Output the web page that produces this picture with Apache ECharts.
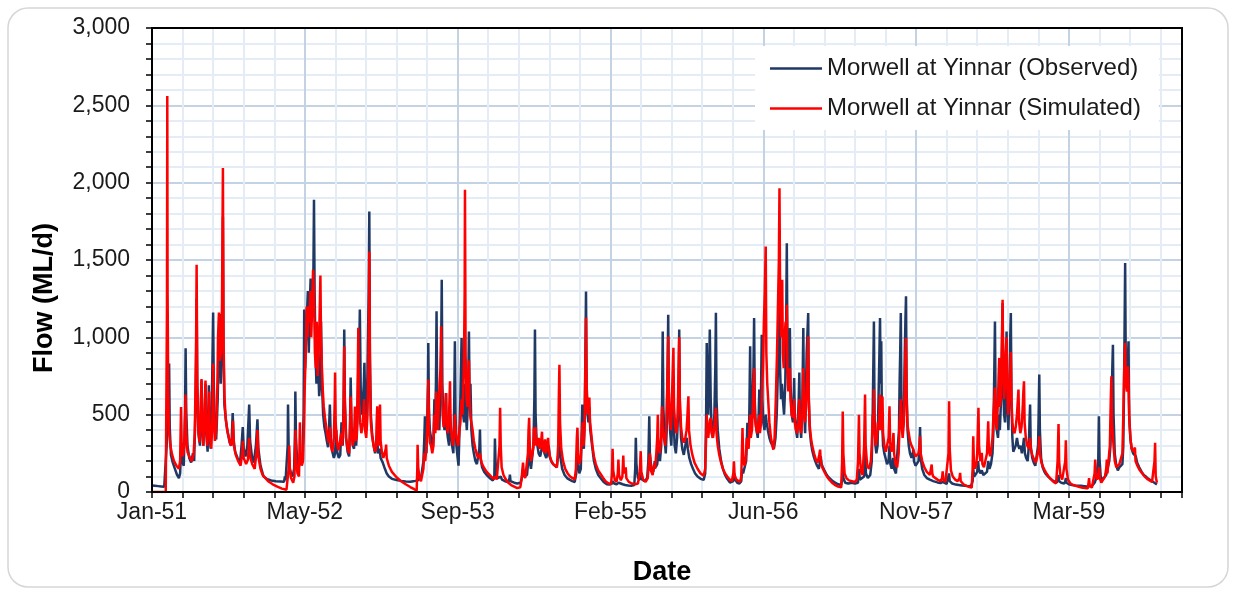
<!DOCTYPE html>
<html>
<head>
<meta charset="utf-8">
<title>Morwell at Yinnar – observed vs simulated flow</title>
<script src="https://cdn.jsdelivr.net/npm/echarts@6/dist/echarts.min.js"></script>
<style>
  html, body { margin: 0; padding: 0; background: #ffffff; }
  #chart { width: 1233px; height: 592px; }
</style>
</head>
<body>
<div id="chart"></div>
<script>
// Day numbers count from 1 January 1951; flows are in ML/d.
const seriesNames = ['Morwell at Yinnar (Observed)', 'Morwell at Yinnar (Simulated)'];
const xTickLabels = ['Jan-51', 'May-52', 'Sep-53', 'Feb-55', 'Jun-56', 'Nov-57', 'Mar-59'];
const xTickStepDays = 500;

// Observed flow, [day, ML/d]
const obs1951 = [[0,42],[10,40],[20,38],[30,36],[40,34],[46,34],[48,300],[52,620],[56,830],[58,420],[62,240],[68,190],[75,150],[82,110],[88,90],[92,120],[95,260],[98,200],[104,170],[108,500],[110,930],[112,520],[116,300],[122,220],[128,190],[134,250],[138,200],[143,600],[146,1250],[148,700],[152,380],[157,300],[160,520],[162,720],[164,450],[168,300],[172,480],[175,700],[177,400],[182,260],[186,690],[188,380],[192,280],[196,600],[200,1160],[202,700],[206,420],[210,340],[215,600],[218,900],[222,1150],[225,700],[230,1100],[232,1780],[234,900],[237,560],[242,460],[248,380],[254,320],[260,300],[264,510],[267,340],[272,260],[280,220],[288,190],[293,300],[297,420],[300,280],[306,230],[312,300],[318,565],[321,330],[327,230],[333,190],[340,300],[345,470],[348,280],[355,170],[362,120]];
const obs1952 = [[365,100],[375,85],[390,75],[405,70],[420,68],[432,66],[435,100],[437,75],[442,70],[444,300],[445,565],[447,300],[450,160],[455,120],[460,100],[465,150],[468,400],[469,650],[471,350],[475,200],[480,150],[484,250],[487,180],[492,200],[496,500],[498,1180],[501,800],[504,1000],[507,1150],[510,1300],[513,900],[516,1200],[519,1380],[522,1100],[525,1250],[528,1400],[530,1890],[532,1300],[535,900],[538,700],[541,1000],[544,800],[547,620],[550,700],[553,1100],[556,700],[560,500],[564,420],[568,380],[572,330],[576,290],[579,400],[582,565],[585,350],[590,260],[595,220],[599,250],[603,400],[606,260],[611,220],[616,240],[620,450],[624,300],[627,600],[629,1050],[631,600],[635,350],[640,260],[645,230],[648,450],[650,740],[653,420],[657,300],[661,280],[665,420],[668,300],[672,450],[675,800],[678,900],[680,1180],[683,650],[686,500],[690,600],[693,700],[695,836],[698,520],[702,400],[706,900],[709,1300],[711,1813],[713,900],[716,500],[720,380],[725,300],[730,250]];
const obs1953 = [[733,300],[737,330],[740,250],[745,280],[748,220],[755,190],[762,150],[768,120],[775,100],[785,85],[800,78],[815,72],[830,68],[845,66],[855,70],[862,72],[868,75],[872,78],[876,110],[880,90],[885,100],[888,200],[891,350],[893,490],[895,300],[898,250],[901,500],[903,700],[904,963],[906,550],[909,400],[913,350],[917,280],[921,350],[924,600],[926,400],[929,700],[931,1168],[933,600],[936,450],[940,400],[943,600],[946,900],[948,1372],[950,700],[953,500],[957,400],[960,500],[962,640],[964,420],[968,350],[972,300],[975,500],[978,400],[982,300],[986,250],[989,600],[991,974],[993,500],[996,300],[1000,220],[1003,170],[1006,400],[1009,600],[1011,800],[1013,995],[1015,600],[1018,500],[1021,450],[1024,700],[1026,550],[1030,400],[1034,600],[1037,1038],[1039,600],[1042,700],[1045,400],[1049,300],[1053,250],[1058,200],[1063,180],[1068,170],[1071,280],[1073,404],[1075,220],[1080,160],[1087,130],[1095,110]];
const obs1954 = [[1100,100],[1108,85],[1115,75],[1120,90],[1122,345],[1124,200],[1127,110],[1132,90],[1138,80],[1141,100],[1145,80],[1155,70],[1165,65],[1170,90],[1171,113],[1173,70],[1185,60],[1195,55],[1201,50],[1206,60],[1210,90],[1214,150],[1217,100],[1222,90],[1227,110],[1231,200],[1234,300],[1236,200],[1240,150],[1244,160],[1248,300],[1251,600],[1253,1050],[1255,500],[1258,350],[1261,300],[1265,250],[1270,230],[1275,280],[1280,330],[1284,250],[1290,220],[1295,260],[1298,300],[1301,230],[1306,200],[1312,180],[1318,170],[1324,160],[1330,250],[1333,450],[1336,230],[1342,150],[1350,110],[1358,90],[1366,80],[1375,70],[1383,65],[1388,120],[1392,300],[1394,180],[1398,120],[1403,150],[1406,400],[1408,565],[1410,320],[1413,280],[1416,500],[1418,900],[1420,1297],[1422,700],[1425,500],[1428,450],[1431,550],[1434,400],[1437,350],[1441,280],[1446,200],[1452,150],[1460,110]];
const obs1955 = [[1462,110],[1470,85],[1478,65],[1488,50],[1495,48],[1505,55],[1508,70],[1512,55],[1520,50],[1527,60],[1530,50],[1540,50],[1543,60],[1548,45],[1558,42],[1568,40],[1578,45],[1581,150],[1583,350],[1585,180],[1590,90],[1597,80],[1600,110],[1604,80],[1612,70],[1620,90],[1624,200],[1627,490],[1629,250],[1634,150],[1640,130],[1645,200],[1648,160],[1653,180],[1658,300],[1662,200],[1666,300],[1669,600],[1671,1038],[1673,550],[1677,350],[1681,250],[1684,400],[1687,800],[1689,1146],[1691,600],[1695,400],[1699,300],[1702,450],[1704,600],[1706,500],[1710,300],[1714,250],[1718,350],[1721,500],[1723,700],[1725,1050],[1727,550],[1731,350],[1735,280],[1740,240],[1745,300],[1750,350],[1753,280],[1758,220],[1764,180],[1770,150],[1777,120],[1785,100],[1795,85],[1805,78],[1810,120],[1813,500],[1815,963],[1817,550],[1820,500],[1823,800],[1825,1050]];
const obs1956 = [[1828,600],[1831,400],[1835,350],[1840,500],[1843,800],[1845,1159],[1847,600],[1851,400],[1856,280],[1862,200],[1868,150],[1875,110],[1882,85],[1891,61],[1897,58],[1902,70],[1905,120],[1908,80],[1915,60],[1922,55],[1928,70],[1931,150],[1934,120],[1940,130],[1944,200],[1946,300],[1948,447],[1950,300],[1953,350],[1955,600],[1957,942],[1959,500],[1962,450],[1965,600],[1968,800],[1970,1125],[1972,600],[1975,450],[1978,400],[1982,350],[1985,500],[1987,662],[1989,450],[1992,550],[1995,1017],[1997,600],[2000,450],[2004,400],[2008,500],[2011,450],[2015,400],[2020,350],[2025,320],[2030,300],[2035,280],[2040,350],[2044,500],[2048,800],[2051,1000],[2053,1329],[2055,800],[2058,600],[2061,700],[2064,600],[2068,500],[2072,700],[2075,1100],[2077,1609],[2079,900],[2082,700],[2085,800],[2087,1060],[2089,700],[2093,500],[2097,450],[2099,550],[2101,737],[2103,500],[2107,400],[2111,350],[2114,500],[2116,600],[2118,772],[2120,450],[2124,350],[2128,600],[2131,1060],[2133,550],[2137,380],[2140,700],[2142,900],[2144,1000],[2147,1157],[2149,600],[2152,400],[2156,320],[2160,270],[2165,230],[2170,200],[2176,170],[2182,150],[2188,230],[2191,180]];
const obs1957 = [[2195,160],[2200,140],[2208,110],[2216,90],[2225,75],[2235,60],[2245,50],[2255,45],[2258,80],[2260,150],[2262,90],[2268,60],[2278,55],[2290,60],[2300,55],[2310,60],[2313,150],[2316,80],[2322,70],[2330,100],[2333,250],[2336,120],[2342,90],[2350,110],[2355,200],[2358,500],[2360,800],[2362,1103],[2364,500],[2367,300],[2370,250],[2374,300],[2377,600],[2380,900],[2382,1125],[2384,700],[2386,974],[2388,500],[2392,300],[2396,250],[2400,220],[2405,180],[2410,200],[2413,300],[2416,180],[2420,150],[2425,220],[2428,150],[2434,120],[2440,130],[2444,400],[2446,700],[2448,900],[2450,1157],[2452,600],[2456,400],[2460,500],[2463,900],[2465,1100],[2467,1265],[2469,650],[2472,400],[2476,300],[2480,250],[2485,220],[2489,250],[2491,274],[2493,200],[2498,170],[2503,160],[2508,200],[2511,300],[2513,420],[2515,220],[2520,150],[2527,110],[2535,90],[2545,80],[2556,70]];
const obs1958 = [[2560,70],[2570,62],[2580,58],[2587,65],[2592,55],[2600,52],[2606,60],[2608,120],[2610,70],[2618,55],[2630,48],[2640,45],[2644,55],[2650,42],[2660,40],[2670,38],[2680,40],[2685,70],[2687,150],[2690,100],[2695,90],[2700,130],[2703,200],[2705,150],[2710,120],[2715,140],[2720,110],[2726,100],[2732,130],[2736,200],[2740,150],[2745,180],[2750,250],[2753,400],[2756,800],[2758,1103],[2760,600],[2764,400],[2768,350],[2772,500],[2774,400],[2778,600],[2781,900],[2783,1220],[2785,700],[2788,500],[2791,450],[2794,700],[2796,1038],[2798,600],[2802,400],[2806,700],[2808,1000],[2810,1157],[2812,600],[2815,350],[2818,260],[2822,250],[2826,300],[2830,350],[2834,300],[2838,280],[2842,300],[2846,250],[2850,300],[2853,350],[2856,250],[2860,220],[2865,200],[2869,300],[2871,450],[2873,565],[2875,300],[2880,220],[2885,190],[2890,170],[2895,180],[2899,300],[2901,500],[2903,759],[2905,400],[2909,220],[2914,160],[2920,130]];
const obs1959 = [[2925,115],[2932,100],[2940,85],[2950,70],[2960,62],[2964,80],[2966,110],[2968,70],[2975,60],[2985,55],[2988,70],[2990,90],[2992,60],[3000,50],[3010,45],[3020,42],[3030,40],[3040,40],[3050,38],[3060,36],[3070,38],[3078,45],[3084,60],[3088,80],[3092,70],[3096,200],[3098,490],[3100,220],[3104,100],[3110,80],[3116,90],[3122,110],[3126,100],[3132,200],[3136,300],[3140,600],[3142,800],[3144,952],[3146,500],[3150,250],[3155,170],[3160,140],[3165,160],[3170,150],[3175,180],[3178,300],[3181,800],[3184,1480],[3186,800],[3190,700],[3193,850],[3195,974],[3197,500],[3201,350],[3205,280],[3210,250],[3215,240],[3219,230],[3223,190],[3230,160],[3238,130],[3245,110],[3252,100],[3260,85],[3268,75],[3276,65],[3282,70],[3288,48]];

// Simulated flow, [day, ML/d]
const sim1951 = [[0,0],[45,0],[48,0],[49,1200],[50,2560],[51,1300],[53,650],[56,380],[60,300],[66,240],[72,200],[80,170],[88,150],[92,200],[95,550],[97,320],[101,230],[106,300],[110,630],[112,380],[116,260],[122,230],[130,200],[136,240],[140,380],[144,900],[146,1470],[148,720],[151,420],[155,320],[158,450],[162,730],[164,420],[168,300],[172,520],[175,720],[177,420],[181,300],[185,500],[187,650],[189,360],[194,280],[198,500],[200,830],[202,480],[206,330],[210,400],[214,700],[216,1000],[219,1160],[222,850],[226,900],[229,1200],[232,2095],[234,1000],[237,620],[241,480],[246,400],[252,350],[257,300],[262,330],[265,460],[268,300],[274,240],[282,200],[290,170],[295,250],[297,330],[300,220],[308,180],[314,210],[318,350],[321,230],[328,180],[336,150],[342,260],[345,400],[348,230],[355,150],[362,110]];
const sim1952 = [[365,100],[380,70],[395,50],[410,35],[425,22],[440,15],[445,12],[447,150],[449,300],[451,150],[455,90],[462,60],[466,100],[468,250],[470,400],[472,200],[476,120],[481,100],[484,450],[486,260],[490,170],[494,200],[497,400],[500,700],[503,900],[506,1200],[509,1000],[512,1200],[515,1100],[518,1300],[521,1000],[524,1200],[527,1437],[530,1300],[533,900],[536,800],[539,1100],[542,750],[545,900],[548,1100],[551,1400],[553,1000],[556,800],[559,650],[562,550],[566,480],[570,420],[574,360],[578,320],[582,420],[585,300],[590,260],[595,350],[598,600],[599,772],[601,450],[605,320],[610,270],[615,260],[619,380],[622,300],[627,500],[629,943],[631,550],[635,350],[640,280],[645,250],[648,400],[650,618],[653,380],[657,300],[661,350],[664,552],[666,330],[670,350],[673,700],[675,1062],[677,600],[681,450],[685,380],[690,450],[694,600],[697,400],[701,350],[705,500],[708,800],[710,1200],[711,1555],[713,800],[716,450],[720,360],[725,300],[730,260]];
const sim1953 = [[733,280],[735,450],[737,554],[739,330],[742,300],[744,420],[746,565],[748,330],[752,260],[757,220],[762,230],[765,280],[766,306],[768,220],[775,170],[785,130],[800,95],[815,70],[830,50],[845,32],[858,18],[866,8],[868,150],[869,306],[871,160],[875,90],[880,70],[885,80],[888,150],[891,250],[894,200],[898,300],[901,450],[904,727],[906,420],[909,320],[913,300],[917,250],[921,300],[924,500],[927,380],[930,650],[932,500],[935,400],[938,550],[941,700],[944,800],[946,1071],[948,700],[951,500],[954,420],[958,500],[962,640],[964,420],[968,380],[972,500],[975,716],[977,450],[981,350],[985,300],[989,400],[991,500],[994,380],[998,330],[1002,300],[1006,400],[1009,450],[1013,600],[1016,500],[1019,700],[1021,900],[1023,1300],[1024,1954],[1026,900],[1029,600],[1032,550],[1035,700],[1037,850],[1039,600],[1042,480],[1045,450],[1049,400],[1053,330],[1058,280],[1063,240],[1068,220],[1073,250],[1078,190],[1085,160],[1095,130]];
const sim1954 = [[1100,120],[1110,100],[1118,85],[1124,100],[1128,80],[1134,75],[1137,300],[1139,545],[1141,300],[1144,160],[1150,110],[1158,80],[1166,60],[1175,45],[1185,35],[1195,25],[1201,20],[1205,30],[1209,80],[1212,150],[1214,190],[1216,120],[1221,90],[1226,100],[1230,250],[1232,400],[1234,480],[1236,300],[1240,200],[1245,250],[1248,300],[1250,416],[1252,300],[1255,420],[1257,330],[1261,300],[1265,350],[1268,280],[1272,300],[1276,390],[1278,280],[1282,260],[1286,340],[1289,250],[1293,300],[1296,350],[1298,280],[1302,230],[1307,200],[1313,180],[1319,170],[1325,160],[1329,300],[1331,600],[1333,823],[1335,450],[1339,280],[1345,200],[1352,150],[1360,120],[1368,100],[1376,90],[1383,80],[1387,150],[1390,350],[1392,416],[1394,250],[1398,180],[1403,220],[1406,350],[1409,450],[1412,300],[1415,400],[1418,800],[1420,1127],[1422,700],[1425,500],[1428,560],[1431,610],[1433,450],[1437,380],[1441,300],[1446,230],[1452,180],[1460,140]];
const sim1955 = [[1462,140],[1470,110],[1478,85],[1486,65],[1495,55],[1502,50],[1505,120],[1507,280],[1509,140],[1514,80],[1520,65],[1524,120],[1526,210],[1528,110],[1534,75],[1539,100],[1542,236],[1544,120],[1548,130],[1550,160],[1552,90],[1560,65],[1570,55],[1580,50],[1585,60],[1590,55],[1596,130],[1599,264],[1601,130],[1607,80],[1615,65],[1622,90],[1626,200],[1629,250],[1632,140],[1638,110],[1643,180],[1646,150],[1650,250],[1653,350],[1655,500],[1657,300],[1661,250],[1666,350],[1669,552],[1671,400],[1675,350],[1679,300],[1683,450],[1686,700],[1689,1006],[1691,650],[1694,450],[1698,400],[1701,600],[1704,800],[1706,933],[1708,550],[1712,420],[1716,380],[1720,500],[1723,800],[1725,1000],[1727,600],[1731,420],[1735,350],[1740,320],[1745,350],[1749,400],[1752,500],[1755,619],[1757,400],[1762,300],[1768,240],[1775,190],[1785,150],[1795,120],[1805,105],[1810,150],[1813,350],[1815,500],[1817,380],[1820,350],[1823,420],[1825,460]];
const sim1956 = [[1828,480],[1831,380],[1835,350],[1840,420],[1843,500],[1845,545],[1847,380],[1851,300],[1856,240],[1862,190],[1868,150],[1875,120],[1882,100],[1890,80],[1897,70],[1902,120],[1904,199],[1906,110],[1912,80],[1918,70],[1924,65],[1928,100],[1930,250],[1932,414],[1934,230],[1938,170],[1942,200],[1946,350],[1948,300],[1952,280],[1955,420],[1957,500],[1959,350],[1963,400],[1966,550],[1968,700],[1970,800],[1972,500],[1976,420],[1980,380],[1984,450],[1987,500],[1989,380],[1993,450],[1996,650],[1999,800],[2002,1100],[2005,1300],[2008,1587],[2010,900],[2013,700],[2016,600],[2020,450],[2025,350],[2030,300],[2033,274],[2037,350],[2041,600],[2045,900],[2048,1200],[2051,1500],[2053,1964],[2055,1300],[2058,1000],[2060,1200],[2062,1372],[2064,900],[2067,800],[2070,1000],[2073,1100],[2075,1000],[2077,1210],[2079,800],[2082,650],[2085,700],[2087,800],[2089,600],[2093,500],[2097,480],[2101,600],[2103,450],[2107,400],[2111,380],[2114,450],[2118,600],[2120,430],[2124,380],[2128,500],[2131,800],[2133,600],[2137,450],[2140,550],[2144,800],[2147,1006],[2149,600],[2152,430],[2156,350],[2160,300],[2166,250],[2172,210],[2178,190],[2183,240],[2186,274],[2188,200],[2191,170]];
const sim1957 = [[2195,150],[2200,130],[2208,100],[2216,80],[2225,60],[2235,45],[2245,35],[2255,30],[2258,200],[2260,520],[2262,250],[2266,120],[2272,90],[2280,75],[2290,70],[2300,65],[2306,80],[2310,200],[2313,500],[2315,250],[2320,130],[2325,110],[2330,300],[2333,630],[2335,300],[2340,170],[2346,150],[2352,200],[2355,300],[2358,500],[2360,400],[2362,665],[2364,400],[2368,300],[2372,350],[2375,450],[2378,400],[2382,630],[2384,400],[2387,500],[2390,617],[2392,380],[2396,300],[2401,260],[2406,250],[2410,350],[2413,554],[2415,320],[2419,260],[2423,300],[2426,382],[2428,250],[2433,180],[2438,160],[2443,250],[2446,450],[2448,500],[2450,600],[2452,450],[2456,350],[2460,450],[2463,700],[2465,900],[2467,996],[2469,600],[2472,430],[2476,380],[2480,330],[2485,300],[2490,280],[2494,250],[2498,230],[2503,220],[2508,250],[2511,300],[2513,360],[2515,250],[2520,200],[2527,160],[2535,130],[2545,110],[2551,178],[2553,120],[2556,100]];
const sim1958 = [[2560,95],[2570,80],[2580,70],[2585,90],[2587,134],[2589,80],[2596,65],[2602,60],[2606,250],[2608,587],[2610,280],[2614,140],[2620,100],[2628,80],[2636,70],[2642,90],[2644,124],[2646,70],[2655,50],[2665,40],[2675,32],[2682,28],[2685,150],[2687,361],[2689,200],[2693,150],[2697,180],[2700,250],[2702,400],[2704,544],[2706,300],[2710,200],[2713,220],[2715,253],[2717,180],[2722,160],[2727,170],[2732,250],[2734,350],[2736,457],[2738,280],[2742,230],[2746,280],[2750,350],[2753,500],[2756,600],[2758,675],[2760,450],[2764,400],[2768,600],[2770,750],[2772,867],[2774,550],[2777,600],[2780,900],[2783,1243],[2785,800],[2788,600],[2791,700],[2793,900],[2796,1000],[2798,700],[2801,500],[2804,600],[2807,750],[2810,905],[2812,600],[2815,450],[2818,400],[2822,380],[2826,420],[2830,500],[2833,600],[2835,662],[2837,450],[2841,380],[2845,420],[2849,550],[2851,650],[2853,716],[2855,450],[2859,350],[2864,300],[2869,280],[2873,350],[2875,280],[2880,240],[2886,210],[2892,190],[2898,200],[2901,280],[2903,360],[2905,250],[2910,190],[2916,160],[2921,140]];
const sim1959 = [[2925,125],[2932,105],[2940,85],[2950,65],[2958,55],[2963,200],[2966,440],[2968,200],[2972,110],[2978,80],[2984,75],[2988,200],[2990,335],[2992,150],[2997,80],[3005,55],[3015,45],[3025,38],[3035,32],[3045,28],[3055,25],[3062,24],[3066,90],[3068,40],[3075,28],[3080,35],[3084,120],[3086,210],[3088,100],[3093,80],[3097,120],[3099,160],[3101,90],[3106,60],[3112,70],[3118,100],[3122,150],[3124,210],[3126,120],[3130,130],[3134,300],[3137,600],[3139,748],[3141,450],[3146,300],[3150,200],[3155,160],[3160,150],[3165,180],[3170,170],[3175,250],[3178,500],[3181,800],[3184,963],[3186,700],[3190,650],[3193,813],[3195,700],[3198,450],[3202,330],[3206,280],[3210,260],[3213,250],[3216,287],[3218,200],[3224,170],[3232,140],[3240,120],[3248,100],[3256,85],[3264,75],[3272,65],[3278,60],[3280,200],[3282,318],[3284,100],[3288,60]];

const observed = [].concat(obs1951, obs1952, obs1953, obs1954, obs1955, obs1956, obs1957, obs1958, obs1959);
const simulated = [].concat(sim1951, sim1952, sim1953, sim1954, sim1955, sim1956, sim1957, sim1958, sim1959);

const FONT = "'Liberation Sans', Arial, Helvetica, sans-serif";
const MAJOR_GRID = '#c3d3e4';
const MINOR_GRID = '#e4ecf5';
const GRID = { left: 152, top: 28, width: 1030, height: 464 };
const X_MAX = 3370;

function thousands(v) {
  return String(v).replace(/\B(?=(\d{3})+(?!\d))/g, ',');
}

const chart = echarts.init(document.getElementById('chart'), null, { renderer: 'canvas' });

chart.setOption({
  animation: false,
  backgroundColor: '#ffffff',
  grid: { left: GRID.left, top: GRID.top, width: GRID.width, height: GRID.height, containLabel: false },
  legend: {
    data: seriesNames,
    orient: 'vertical',
    left: 755,
    top: 46,
    padding: [9, 18, 8, 15],
    backgroundColor: '#ffffff',
    itemWidth: 52,
    itemHeight: 2.5,
    itemGap: 13,
    icon: 'rect',
    textStyle: { fontFamily: FONT, fontSize: 24, color: '#1a1a1a', lineHeight: 27 }
  },
  xAxis: [
    {
      // 100-day minor grid and tick marks
      type: 'value', min: 0, max: X_MAX, interval: 100, position: 'bottom',
      axisLine: { show: true, onZero: false, lineStyle: { color: '#000', width: 2 } },
      axisTick: { show: true, length: 6, lineStyle: { color: '#000', width: 1.5 } },
      axisLabel: { show: false },
      splitLine: { show: true, showMinLine: false, showMaxLine: false, lineStyle: { color: MINOR_GRID, width: 2 } }
    },
    {
      // 500-day major grid and date labels
      type: 'value', min: 0, max: X_MAX, interval: xTickStepDays, position: 'bottom',
      axisLine: { show: false, onZero: false },
      axisTick: { show: false },
      axisLabel: {
        show: true, margin: 9, showMaxLabel: false,
        fontFamily: FONT, fontSize: 23, color: '#1a1a1a',
        formatter: function (v) {
          const i = Math.round(v / xTickStepDays);
          return (v % xTickStepDays === 0 && i < xTickLabels.length) ? xTickLabels[i] : '';
        }
      },
      splitLine: { show: true, showMinLine: false, showMaxLine: false, lineStyle: { color: MAJOR_GRID, width: 2 } }
    }
  ],
  yAxis: {
    type: 'value', min: 0, max: 3000, interval: 500,
    axisLine: { show: true, onZero: false, lineStyle: { color: '#000', width: 2 } },
    axisTick: { show: true, length: 6, lineStyle: { color: '#000', width: 1.5 } },
    minorTick: { show: true, splitNumber: 5, length: 6, lineStyle: { color: '#000', width: 1.5 } },
    axisLabel: { margin: 22, fontFamily: FONT, fontSize: 23, color: '#1a1a1a', formatter: thousands },
    splitLine: { show: true, showMinLine: false, showMaxLine: false, lineStyle: { color: MAJOR_GRID, width: 2 } },
    minorSplitLine: { show: true, lineStyle: { color: MINOR_GRID, width: 2 } }
  },
  graphic: [
    {
      type: 'rect', z: -10, silent: true,
      shape: { x: 8, y: 8, width: 1220, height: 579, r: 20 },
      style: { fill: 'none', stroke: '#d6d6d6', lineWidth: 1.5 }
    },
    {
      type: 'rect', z: 50, silent: true,
      shape: { x: GRID.left, y: GRID.top, width: GRID.width, height: GRID.height },
      style: { fill: 'none', stroke: '#000', lineWidth: 2 }
    },
    {
      type: 'text', z: 50, silent: true,
      x: 45, y: 298, rotation: Math.PI / 2,
      style: { text: 'Flow (ML/d)', fontFamily: FONT, fontSize: 27, fontWeight: 'bold', fill: '#000', align: 'center', verticalAlign: 'middle' }
    },
    {
      type: 'text', z: 50, silent: true,
      x: 662, y: 573,
      style: { text: 'Date', fontFamily: FONT, fontSize: 27, fontWeight: 'bold', fill: '#000', align: 'center', verticalAlign: 'middle' }
    }
  ],
  series: [
    {
      name: seriesNames[0], type: 'line', xAxisIndex: 0, data: observed,
      showSymbol: false, symbol: 'none', smooth: false,
      lineStyle: { color: '#1f3864', width: 2.5 }, itemStyle: { color: '#1f3864' }, z: 2
    },
    {
      name: seriesNames[1], type: 'line', xAxisIndex: 0, data: simulated,
      showSymbol: false, symbol: 'none', smooth: false,
      lineStyle: { color: '#ff0000', width: 2.5 }, itemStyle: { color: '#ff0000' }, z: 3
    }
  ]
});
</script>
</body>
</html>
